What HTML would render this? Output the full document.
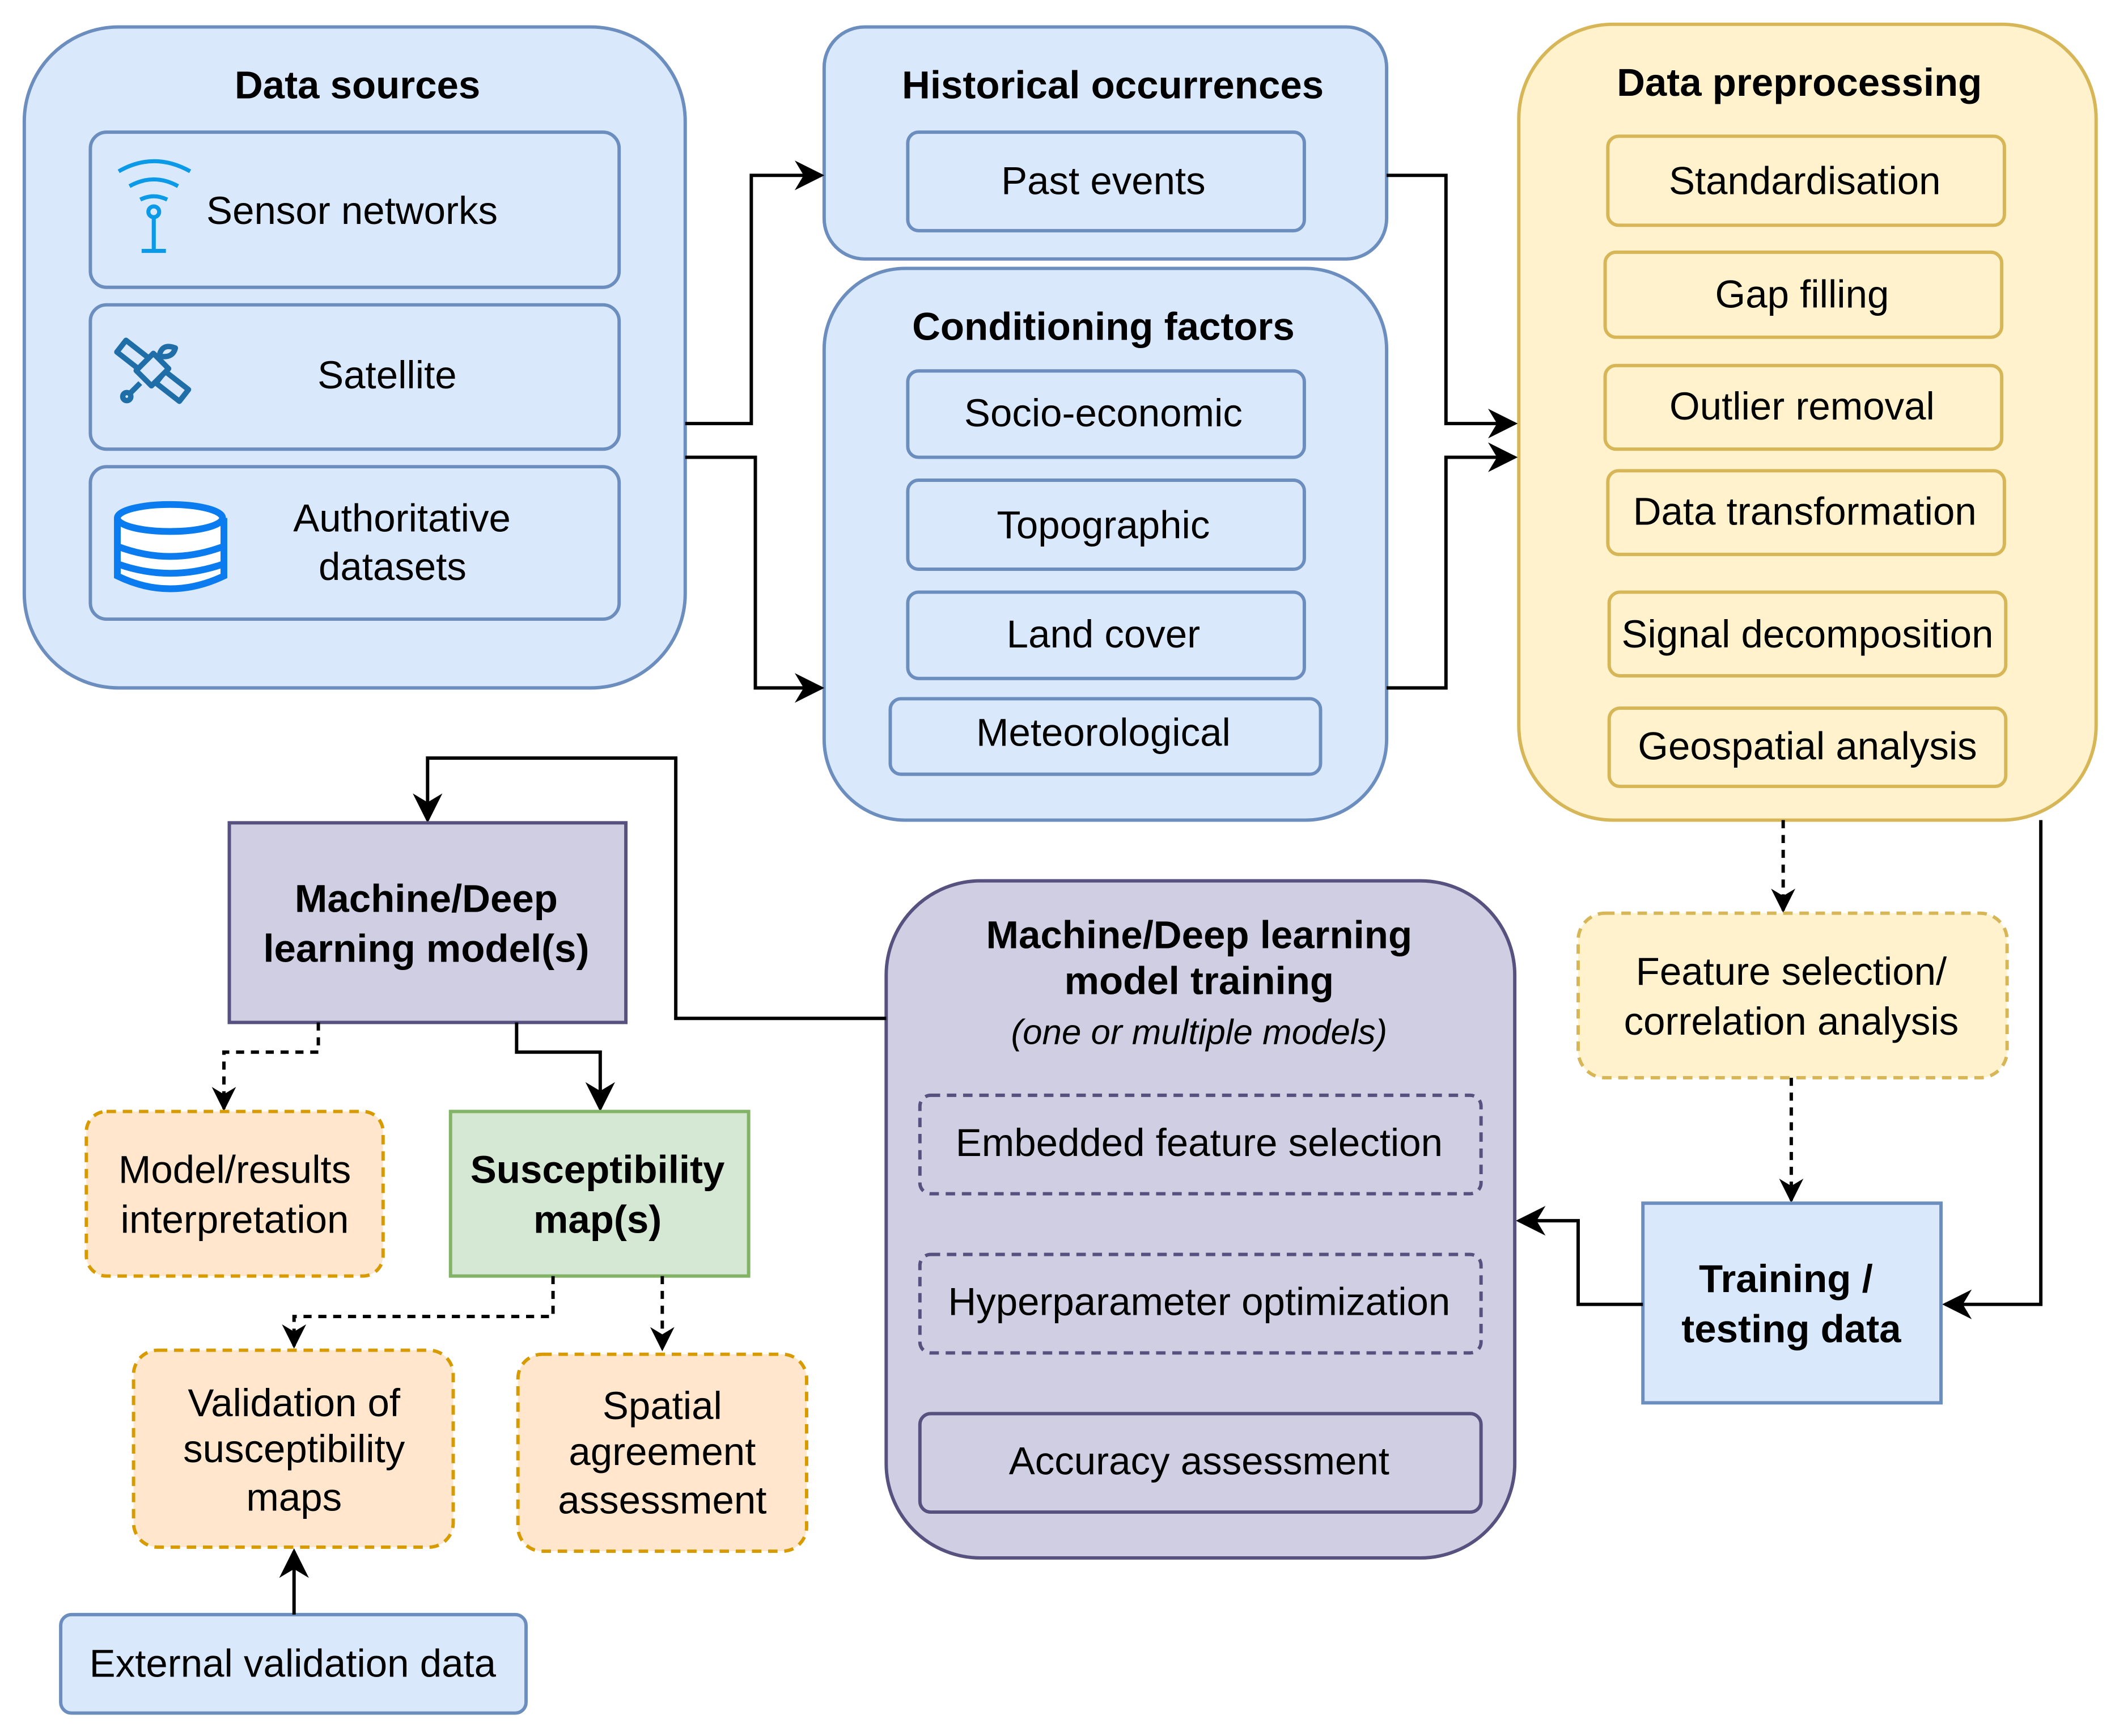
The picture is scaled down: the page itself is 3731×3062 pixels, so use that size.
<!DOCTYPE html>
<html><head><meta charset="utf-8"><style>
html,body{margin:0;padding:0;background:#fff}
svg{display:block}
text{font-family:"Liberation Sans",Arial,sans-serif;fill:#000}
.t{font-size:29px;text-anchor:middle}
.b{font-size:29px;font-weight:bold;text-anchor:middle}
.bl{fill:#dae8fc;stroke:#6c8ebf;stroke-width:2.5}
.ye{fill:#fff2cc;stroke:#d6b656;stroke-width:2.5}
.pu{fill:#d0cee2;stroke:#56517e;stroke-width:2.5}
.or{fill:#ffe6cc;stroke:#d79b00;stroke-width:2.5;stroke-dasharray:7 5}
.gr{fill:#d5e8d4;stroke:#82b366;stroke-width:2.5}
.ln{fill:none;stroke:#000;stroke-width:2.5}
.dl{fill:none;stroke:#000;stroke-width:2.5;stroke-dasharray:6 5}
</style></head><body>
<svg width="3731" height="3062" viewBox="0 0 1568 1287" preserveAspectRatio="none" xmlns="http://www.w3.org/2000/svg">
<defs>
<marker id="A" viewBox="0 0 10 10" refX="9" refY="5" markerWidth="22" markerHeight="22" markerUnits="userSpaceOnUse" orient="auto"><path d="M0,0 L10,5 L0,10 L3,5 z" fill="#000"/></marker>
<marker id="a" viewBox="0 0 10 10" refX="9" refY="5" markerWidth="18" markerHeight="18" markerUnits="userSpaceOnUse" orient="auto"><path d="M0,0 L10,5 L0,10 L3,5 z" fill="#000"/></marker></defs>

<!-- Data sources -->
<rect class="bl" x="18" y="20" width="490" height="490" rx="70"/>
<text class="b" x="265" y="73">Data sources</text>
<rect class="bl" x="67" y="98" width="392" height="115" rx="12"/>
<text x="153" y="166" style="font-size:29px">Sensor networks</text>
<g stroke="#0a9ae8" stroke-width="3" fill="none"><path d="M88,127 Q114,112 141,127"/><path d="M96,138 Q114,128 132,138"/><path d="M104,148 Q114,143 124,148"/><circle cx="114" cy="157" r="4"/><path d="M114,161 V186 M105,186 H123"/></g>
<rect class="bl" x="67" y="226" width="392" height="107" rx="12"/>
<text class="t" x="287" y="288">Satellite</text>
<g fill="#dae8fc" stroke="#1f6ea8" stroke-width="4" stroke-linejoin="round">
<rect x="88" y="258" width="22" height="11" transform="rotate(38 99 263)"/>
<rect x="117" y="281" width="22" height="11" transform="rotate(38 128 286)"/>
<rect x="104" y="266" width="18" height="16" transform="rotate(-45 113 274)"/>
<path d="M104,284 L96,292" fill="none"/><circle cx="94" cy="294" r="3"/>
<path d="M118,264 Q120,254 130,258 Q128,266 118,264" /></g>
<rect class="bl" x="67" y="346" width="392" height="113" rx="12"/>
<text class="t" x="298" y="394">Authoritative</text><text class="t" x="291" y="430">datasets</text>
<g stroke="#0a7cf0" stroke-width="5" fill="#fff"><path d="M87,384 V427 Q126,446 166,427 V384"/><ellipse cx="126" cy="384" rx="39" ry="10"/><path d="M87,405 Q126,420 166,405" fill="none"/><path d="M87,418 Q126,432 166,418" fill="none"/></g>

<!-- Historical -->
<rect class="bl" x="611" y="20" width="417" height="172" rx="30"/>
<text class="b" x="825" y="73">Historical occurrences</text>
<rect class="bl" x="673" y="98" width="294" height="73" rx="8"/>
<text class="t" x="818" y="144">Past events</text>

<!-- Conditioning -->
<rect class="bl" x="611" y="199" width="417" height="409" rx="60"/>
<text class="b" x="818" y="252">Conditioning factors</text>
<rect class="bl" x="673" y="275" width="294" height="64" rx="8"/><text class="t" x="818" y="316">Socio-economic</text>
<rect class="bl" x="673" y="356" width="294" height="66" rx="8"/><text class="t" x="818" y="399">Topographic</text>
<rect class="bl" x="673" y="439" width="294" height="64" rx="8"/><text class="t" x="818" y="480">Land cover</text>
<rect class="bl" x="660" y="518" width="319" height="56" rx="8"/><text class="t" x="818" y="553">Meteorological</text>

<!-- Preprocessing -->
<rect class="ye" x="1126" y="18" width="428" height="590" rx="70"/>
<text class="b" x="1334" y="71">Data preprocessing</text>
<rect class="ye" x="1192" y="101" width="294" height="66" rx="8"/><text class="t" x="1338" y="144">Standardisation</text>
<rect class="ye" x="1190" y="187" width="294" height="63" rx="8"/><text class="t" x="1336" y="228">Gap filling</text>
<rect class="ye" x="1190" y="271" width="294" height="62" rx="8"/><text class="t" x="1336" y="311">Outlier removal</text>
<rect class="ye" x="1192" y="349" width="294" height="62" rx="8"/><text class="t" x="1338" y="389">Data transformation</text>
<rect class="ye" x="1193" y="439" width="294" height="62" rx="8"/><text class="t" x="1340" y="480">Signal decomposition</text>
<rect class="ye" x="1193" y="525" width="294" height="58" rx="8"/><text class="t" x="1340" y="563">Geospatial analysis</text>

<path class="ln" d="M508,314 H557 V130 H609" marker-end="url(#A)"/>
<path class="ln" d="M508,339 H560 V510 H609" marker-end="url(#A)"/>
<path class="ln" d="M1028,130 H1072 V314 H1123" marker-end="url(#A)"/>
<path class="ln" d="M1028,510 H1072 V339 H1123" marker-end="url(#A)"/>

<path class="dl" d="M1322,608 V675" marker-end="url(#a)"/>
<rect class="ye" style="stroke-dasharray:7 5" x="1170" y="677" width="318" height="122" rx="20"/>
<text class="t" x="1328" y="730">Feature selection/</text><text class="t" x="1328" y="767">correlation analysis</text>
<path class="dl" d="M1328,799 V890" marker-end="url(#a)"/>
<path class="ln" d="M1513,608 V967 H1442" marker-end="url(#A)"/>

<rect class="bl" x="1218" y="892" width="221" height="148"/>
<text class="b" x="1324" y="958">Training /</text><text class="b" x="1328" y="995">testing data</text>
<path class="ln" d="M1218,967 H1170 V905 H1126" marker-end="url(#A)"/>

<rect class="pu" x="657" y="653" width="466" height="502" rx="70"/>
<text class="b" x="889" y="703">Machine/Deep learning</text>
<text class="b" x="889" y="737">model training</text>
<text class="t" x="889" y="774" style="font-style:italic;font-size:26px">(one or multiple models)</text>
<rect class="pu" style="stroke-dasharray:7 5" x="682" y="812" width="416" height="73" rx="8"/><text class="t" x="889" y="857">Embedded feature selection</text>
<rect class="pu" style="stroke-dasharray:7 5" x="682" y="930" width="416" height="73" rx="8"/><text class="t" x="889" y="975">Hyperparameter optimization</text>
<rect class="pu" x="682" y="1048" width="416" height="73" rx="8"/><text class="t" x="889" y="1093">Accuracy assessment</text>

<path class="ln" d="M657,755 H501 V562 H317 V608" marker-end="url(#A)"/>
<rect class="pu" x="170" y="610" width="294" height="148"/>
<text class="b" x="316" y="676">Machine/Deep</text><text class="b" x="316" y="713">learning model(s)</text>

<path class="dl" d="M236,758 V780 H166 V822" marker-end="url(#a)"/>
<path class="ln" d="M383,758 V780 H445 V822" marker-end="url(#A)"/>
<rect class="or" x="64" y="824" width="220" height="122" rx="15"/>
<text class="t" x="174" y="877">Model/results</text><text class="t" x="174" y="914">interpretation</text>
<rect class="gr" x="334" y="824" width="221" height="122"/>
<text class="b" x="443" y="877">Susceptibility</text><text class="b" x="443" y="914">map(s)</text>

<path class="dl" d="M410,946 V976 H218 V998" marker-end="url(#a)"/>
<path class="dl" d="M491,946 V1000" marker-end="url(#a)"/>
<rect class="or" x="99" y="1001" width="237" height="146" rx="18"/>
<text class="t" x="218" y="1050">Validation of</text><text class="t" x="218" y="1084">susceptibility</text><text class="t" x="218" y="1120">maps</text>
<rect class="or" x="384" y="1004" width="214" height="146" rx="18"/>
<text class="t" x="491" y="1052">Spatial</text><text class="t" x="491" y="1086">agreement</text><text class="t" x="491" y="1122">assessment</text>

<rect class="bl" x="45" y="1197" width="345" height="73" rx="8"/>
<text class="t" x="217" y="1243">External validation data</text>
<path class="ln" d="M218,1197 V1150" marker-end="url(#A)"/>
</svg>
</body></html>
